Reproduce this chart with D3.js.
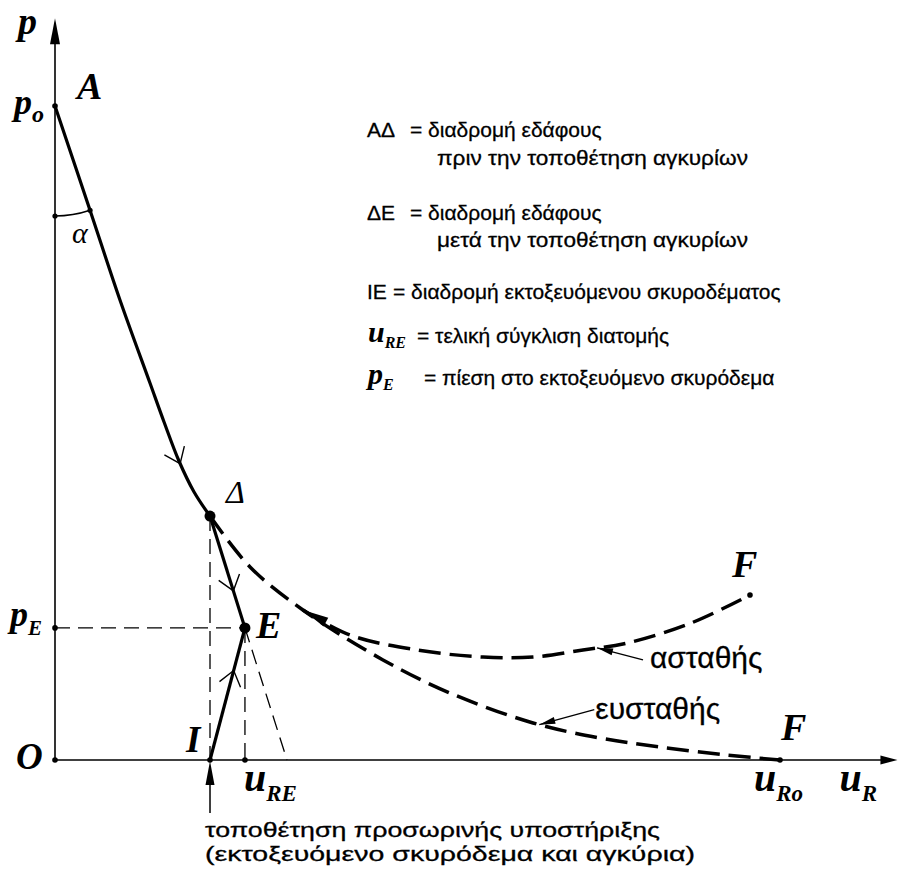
<!DOCTYPE html>
<html>
<head>
<meta charset="utf-8">
<script src="https://cdn.jsdelivr.net/npm/d3@7"></script>
<style>
  body { margin: 0; background: #fff; }
  svg { display: block; }
  .sans { font-family: "Liberation Sans", Arial, sans-serif; fill: #000; stroke: #000; stroke-width: 0.3; }
  .ital { font-family: "Liberation Serif", "Times New Roman", serif; font-style: italic; font-weight: bold; fill: #000; }
  .thin { font-family: "Liberation Serif", "Times New Roman", serif; font-style: italic; fill: #000; }
</style>
</head>
<body>
<svg width="899" height="874"></svg>
<script>
// values (arbitrary units: u_R horizontal, p vertical)
const p0 = 5.0, pE = 1.01, pAxisEnd = 5.67;
const uI = 10.69, uRE = 13.1, uRo = 50, uAxisEnd = 58.1, uTangent = 16.0;
const pDelta = 1.865;

// ground curve A -> Δ (before support)
const groundCurve = [[0, 5.0], [2.41, 4.205], [4.48, 3.517], [6.55, 2.882], [7.52, 2.584],
                     [8.55, 2.286], [9.59, 2.049], [uI, pDelta]];
// stable continuation Δ -> F
const stableCurve = [[uI, pDelta], [13.45, 1.476], [17.10, 1.147], [22.62, 0.765], [27.24, 0.512],
                     [32.97, 0.283], [37.59, 0.168], [41.72, 0.099], [46.34, 0.038], [uRo, 0]];
// unstable branch -> F
const unstableCurve = [[17.10, 1.147], [20.34, 0.956], [24.97, 0.841], [29.52, 0.787], [32.97, 0.787],
                       [36.41, 0.841], [39.45, 0.894], [43.86, 1.047], [47.93, 1.261]];
const soilAfter = [[uI, pDelta], [uRE, pE]];   // Δ -> E
const supportLine = [[uI, 0], [uRE, pE]];      // I -> E
const unstableTip = [37.38, 0.858];
const stableTip = [33.4, 0.27];

const legendKeys = ["ΑΔ", "", "ΔΕ", "", "IE", "u", "p"];
const legendSubs = ["", "", "", "", "", "RE", "E"];
const legendTexts = ["= διαδρομή εδάφους", "πριν την τοποθέτηση αγκυρίων",
                     "= διαδρομή εδάφους", "μετά την τοποθέτηση αγκυρίων",
                     "= διαδρομή εκτοξευόμενου σκυροδέματος",
                     "= τελική σύγκλιση διατομής", "= πίεση στο εκτοξευόμενο σκυρόδεμα"];
const bottomNote = ["τοποθέτηση προσωρινής υποστήριξης", "(εκτοξευόμενο σκυρόδεμα και αγκύρια)"];

const svg = d3.select("svg");
const x = d3.scaleLinear([0, uRo], [55, 780]);
const y = d3.scaleLinear([0, p0], [760, 106]);

const line = d3.line().x(d => x(d[0])).y(d => y(d[1])).curve(d3.curveCatmullRom);
const straight = d3.line().x(d => x(d[0])).y(d => y(d[1]));

function arrowHead(tx, ty, ang, len, half) {
  const bx = tx - len * Math.cos(ang), by = ty - len * Math.sin(ang);
  const nx = -Math.sin(ang) * half, ny = Math.cos(ang) * half;
  return `M${tx},${ty}L${bx + nx},${by + ny}L${bx - nx},${by - ny}Z`;
}
function chevronOn(node, frac) {
  const L = node.getTotalLength();
  const a = node.getPointAtLength(L * frac - 1), b = node.getPointAtLength(L * frac + 1);
  const ang = Math.atan2(b.y - a.y, b.x - a.x), len = 18, spread = 0.65;
  const w1 = ang + Math.PI - spread, w2 = ang + Math.PI + spread;
  return `M${b.x + len * Math.cos(w1)},${b.y + len * Math.sin(w1)}L${b.x},${b.y}L${b.x + len * Math.cos(w2)},${b.y + len * Math.sin(w2)}`;
}

// axes
svg.append("line").attr("x1", x(0)).attr("y1", y(0)).attr("x2", x(0)).attr("y2", y(pAxisEnd) + 10)
  .attr("stroke", "#000").attr("stroke-width", 1.6);
svg.append("path").attr("d", arrowHead(x(0), y(pAxisEnd), -Math.PI / 2, 26, 5));
svg.append("line").attr("x1", x(0)).attr("y1", y(0)).attr("x2", x(uAxisEnd) - 8).attr("y2", y(0))
  .attr("stroke", "#000").attr("stroke-width", 1.6);
svg.append("path").attr("d", arrowHead(x(uAxisEnd), y(0), 0, 17, 4.5));

// thin dashed construction lines
const thinDash = g => g.attr("stroke", "#000").attr("stroke-width", 1.3).attr("stroke-dasharray", "15 8").attr("fill", "none");
svg.append("line").attr("x1", x(uI)).attr("y1", y(pDelta)).attr("x2", x(uI)).attr("y2", y(0)).call(thinDash);
svg.append("line").attr("x1", x(uRE)).attr("y1", y(pE)).attr("x2", x(uRE)).attr("y2", y(0)).call(thinDash);
svg.append("line").attr("x1", x(0)).attr("y1", y(pE)).attr("x2", x(uRE)).attr("y2", y(pE)).call(thinDash);
svg.append("line").attr("x1", x(uRE)).attr("y1", y(pE)).attr("x2", x(uTangent)).attr("y2", y(0)).call(thinDash);

// thick dashed curves
svg.append("path").attr("d", line(stableCurve)).attr("fill", "none").attr("stroke", "#000")
  .attr("stroke-width", 3.5).attr("stroke-dasharray", "22 9");
svg.append("path").attr("d", line(unstableCurve)).attr("fill", "none").attr("stroke", "#000")
  .attr("stroke-width", 3.5).attr("stroke-dasharray", "22 9");

// solid paths
const groundPath = svg.append("path").attr("d", line(groundCurve)).attr("fill", "none")
  .attr("stroke", "#000").attr("stroke-width", 3.2);
const afterPath = svg.append("path").attr("d", straight(soilAfter)).attr("fill", "none")
  .attr("stroke", "#000").attr("stroke-width", 3.2);
const supportPath = svg.append("path").attr("d", straight(supportLine)).attr("fill", "none")
  .attr("stroke", "#000").attr("stroke-width", 3.2);

[[groundPath, 0.86], [afterPath, 0.66], [supportPath, 0.67]].forEach(([p, f]) => {
  svg.append("path").attr("d", chevronOn(p.node(), f)).attr("fill", "none")
    .attr("stroke", "#000").attr("stroke-width", 1.4);
});

// angle alpha
const ax0 = x(0), ay0 = y(p0);
const dx1 = x(groundCurve[1][0]) - ax0, dy1 = y(groundCurve[1][1]) - ay0;
const r = 110, dl = Math.hypot(dx1, dy1);
const arcEnd = [ax0 + r * dx1 / dl, ay0 + r * dy1 / dl];
svg.append("path").attr("d", `M${ax0},${ay0 + r}A${r},${r} 0 0 0 ${arcEnd[0]},${arcEnd[1]}`)
  .attr("fill", "none").attr("stroke", "#000").attr("stroke-width", 1.4);

// branch arrow at start of unstable curve
{
  const a = unstableCurve[1], b = unstableCurve[0];
  const ang = Math.atan2(y(b[1]) - y(a[1]), x(b[0]) - x(a[0]));
  svg.append("path").attr("d", arrowHead(x(b[0]), y(b[1]), ang, 26, 5));
}

// pointers to the curves
const pointers = [
  { tip: unstableTip, dx: 46, dy: 12, label: "ασταθής", lx: 53, ly: 20 },
  { tip: stableTip, dx: 55, dy: -15, label: "ευσταθής", lx: 56, ly: -6 }
];
pointers.forEach(d => {
  const tx = x(d.tip[0]), ty = y(d.tip[1]);
  const ang = Math.atan2(-d.dy, -d.dx);
  svg.append("line").attr("x1", tx + d.dx).attr("y1", ty + d.dy).attr("x2", tx).attr("y2", ty)
    .attr("stroke", "#000").attr("stroke-width", 1.3);
  svg.append("path").attr("d", arrowHead(tx, ty, ang, 16, 3.5));
  svg.append("text").attr("class", "sans").attr("x", tx + d.lx).attr("y", ty + d.ly)
    .attr("font-size", 30).text(d.label);
});

// bottom arrow (support installation)
svg.append("line").attr("x1", x(uI)).attr("y1", y(0) + 53).attr("x2", x(uI)).attr("y2", y(0) + 20)
  .attr("stroke", "#000").attr("stroke-width", 1.5);
svg.append("path").attr("d", arrowHead(x(uI), y(0) + 1, -Math.PI / 2, 24, 4.5));

// dots
const small = [[0, p0], [0, pE], [0, 0], [uI, 0], [uRE, 0], [uRo, 0], unstableCurve[unstableCurve.length - 1]];
svg.selectAll("circle.s").data(small).join("circle").attr("class", "s")
  .attr("cx", d => x(d[0])).attr("cy", d => y(d[1])).attr("r", 2.8);
svg.append("circle").attr("cx", ax0).attr("cy", ay0 + r).attr("r", 2.6);
svg.append("circle").attr("cx", arcEnd[0]).attr("cy", arcEnd[1]).attr("r", 2.6);
svg.selectAll("circle.b").data([[uI, pDelta], [uRE, pE]]).join("circle").attr("class", "b")
  .attr("cx", d => x(d[0])).attr("cy", d => y(d[1])).attr("r", 5.5);

// italic labels
function label(px, py, main, sub, size, subSize, subDy, cls) {
  const t = svg.append("text").attr("class", cls || "ital").attr("x", px).attr("y", py)
    .attr("font-size", size).text(main);
  if (sub) t.append("tspan").attr("font-size", subSize).attr("dy", subDy).text(sub);
  return t;
}
label(x(0) - 37, y(pAxisEnd) + 16, "p", "", 38);
label(x(0) + 22, y(p0) - 7, "A", "", 38);
label(x(0) - 41, y(p0) + 8, "p", "o", 36, 24, 8);
label(x(0) + 17, y(p0) + 137, "α", "", 30, 0, 0, "thin");
label(x(uI) + 16, y(pDelta) - 13, "Δ", "", 32, 0, 0, "thin");
label(x(uRE) + 11, y(pE) + 10, "E", "", 38);
label(x(0) - 45, y(pE) - 2, "p", "E", 36, 21, 9);
label(x(0) - 39, y(0) + 9, "O", "", 37);
label(x(uI) - 24, y(0) - 8, "I", "", 37);
label(x(uRE) - 1, y(0) + 31, "u", "RE", 40, 23, 10);
label(x(uRo) - 26, y(0) + 31, "u", "Ro", 40, 23, 10);
label(x(uAxisEnd) - 58, y(0) + 31, "u", "R", 40, 23, 10);
const fEnd = unstableCurve[unstableCurve.length - 1];
label(x(fEnd[0]) - 18, y(fEnd[1]) - 18, "F", "", 38);
label(x(uRo) + 1, y(0) - 20, "F", "", 38);

// legend
const legendBase = [137, 165, 220, 247, 299, 343, 385];
const legendTextX = [410, 437, 410, 437, 393, 417, 424];
legendKeys.forEach((k, i) => {
  if (k && !legendSubs[i]) {
    svg.append("text").attr("class", "sans").attr("x", 367).attr("y", legendBase[i])
      .attr("font-size", 21).text(k);
  } else if (k) {
    label(368, legendBase[i] - 1, k, legendSubs[i], 30, 16, 6);
  }
  const t = svg.append("text").attr("class", "sans").attr("x", legendTextX[i]).attr("y", legendBase[i])
    .attr("font-size", 21).text(legendTexts[i]);
  if (!k) t.attr("textLength", 311).attr("lengthAdjust", "spacingAndGlyphs");
});

// bottom note
const noteWidths = [455, 490];
bottomNote.forEach((t, i) => {
  svg.append("text").attr("class", "sans").attr("x", x(uI) - 5).attr("y", 837 + i * 24)
    .attr("font-size", 21).attr("textLength", noteWidths[i]).attr("lengthAdjust", "spacingAndGlyphs")
    .text(t);
});
</script>
</body>
</html>
